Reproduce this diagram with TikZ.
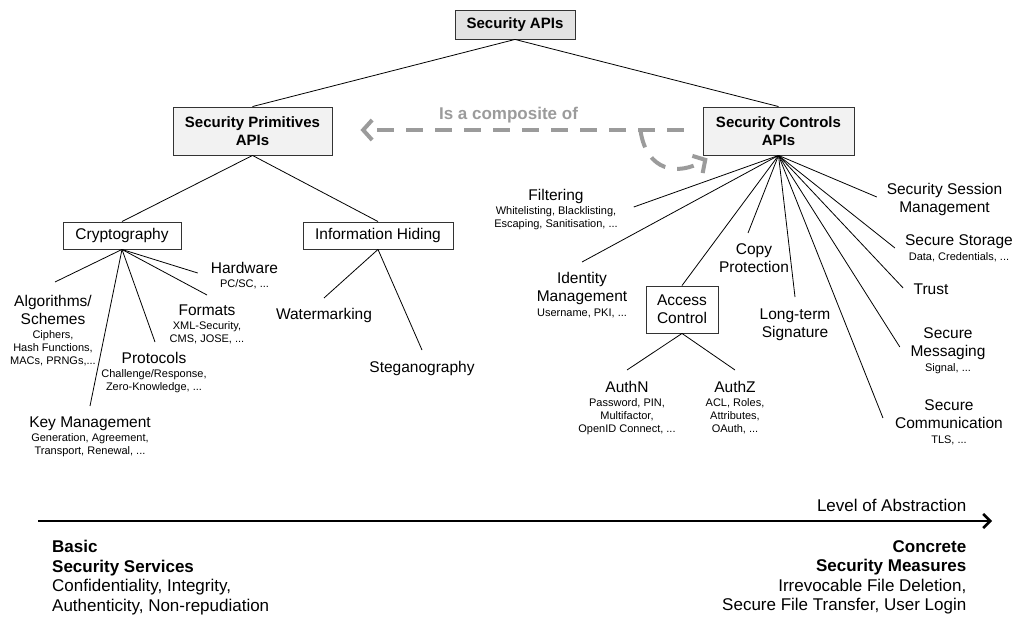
\documentclass[tikz,border=0pt]{standalone}
\usepackage{fontspec}
\setmainfont{Liberation Sans}
\usetikzlibrary{arrows.meta}
\newcommand\subtxt{\fontsize{11}{13}\selectfont}
\definecolor{apifill}{HTML}{E3E3E3}
\definecolor{midfill}{HTML}{F2F2F2}
\definecolor{dashgray}{HTML}{9B9B9B}
\definecolor{edgecol}{HTML}{333333}
\begin{document}
\begin{tikzpicture}[x=1pt,y=-1pt,
  every node/.style={font=\fontsize{15.5}{18}\selectfont},
  boxbase/.style={draw=edgecol,line width=0.9pt,align=center,inner sep=0pt},
  topbox/.style={boxbase,fill=apifill,font=\bfseries\fontsize{15}{18}\selectfont},
  midbox/.style={boxbase,fill=midfill,font=\bfseries\fontsize{15}{17.5}\selectfont,minimum height=48pt},
  plainbox/.style={boxbase,fill=white},
  lbl/.style={align=center,inner sep=1pt,anchor=north},
  conn/.style={draw=black,line width=0.8pt},
  composite/.style={draw=dashgray,line width=4pt,dash pattern=on 17pt off 12pt,-{Straight Barb[length=9pt,width=20pt]}},
  axis/.style={draw=black,line width=2.6pt,-{Straight Barb[length=7pt,width=14pt]}},
  bottomtxt/.style={font=\fontsize{17}{19.5}\selectfont,inner sep=0pt},
]
\useasboundingbox (0,0) rectangle (1014,617);

% boxes
\node[topbox,minimum width=120pt,minimum height=29pt] (apis) at (515,24.5) {Security APIs};
\node[midbox,minimum width=159pt] (prim) at (252.5,131) {Security Primitives\\APIs};
\node[midbox,minimum width=151pt] (ctrl) at (778.5,131) {Security Controls\\APIs};
\node[plainbox,minimum width=118pt,minimum height=27pt] (crypto) at (122,235.5) {Cryptography};
\node[plainbox,minimum width=150pt,minimum height=27pt] (ih) at (378,235.5) {Information Hiding};
\node[plainbox,minimum width=72pt,minimum height=47pt] (ac) at (682,309.5) {Access\\Control};

% labels
\node[lbl] (algo) at (53,294.5) {Algorithms/\\Schemes\\[-4pt]\subtxt Ciphers,\\[-5pt]\subtxt Hash Functions,\\[-5pt]\subtxt MACs, PRNGs,...};
\node[lbl] (km) at (90,415.5) {Key Management\\[-4pt]\subtxt Generation, Agreement,\\[-5pt]\subtxt Transport, Renewal, ...};
\node[lbl] (proto) at (154,351.5) {Protocols\\[-4pt]\subtxt Challenge/Response,\\[-5pt]\subtxt Zero-Knowledge, ...};
\node[lbl] (fmt) at (207,303.5) {Formats\\[-4pt]\subtxt XML-Security,\\[-5pt]\subtxt CMS, JOSE, ...};
\node[lbl] (hw) at (244.5,261) {Hardware\\[-4pt]\subtxt PC/SC, ...};
\node[lbl] (wm) at (324,307) {Watermarking};
\node[lbl] (steg) at (422,360) {Steganography};
\node[lbl] (filt) at (556,188) {Filtering\\[-4pt]\subtxt Whitelisting, Blacklisting,\\[-5pt]\subtxt Escaping, Sanitisation, ...};
\node[lbl] (idm) at (582,271.5) {Identity\\Management\\[-3pt]\subtxt Username, PKI, ...};
\node[lbl] (authn) at (627,380.5) {AuthN\\[-4pt]\subtxt Password, PIN,\\[-5pt]\subtxt Multifactor,\\[-5pt]\subtxt OpenID Connect, ...};
\node[lbl] (authz) at (735,380.5) {AuthZ\\[-4pt]\subtxt ACL, Roles,\\[-5pt]\subtxt Attributes,\\[-5pt]\subtxt OAuth, ...};
\node[lbl] (cp) at (754,242.5) {Copy\\Protection};
\node[lbl] (lts) at (795,307.5) {Long-term\\Signature};
\node[lbl] (ssm) at (944.5,182) {Security Session\\Management};
\node[lbl] (ss) at (959,233) {Secure Storage\\[-3pt]\subtxt Data, Credentials, ...};
\node[lbl] (trust) at (931,283) {Trust};
\node[lbl] (sm) at (948,326) {Secure\\Messaging\\[-3pt]\subtxt Signal, ...};
\node[lbl] (sc) at (949,398) {Secure\\Communication\\[-3pt]\subtxt TLS, ...};

% connectors
\draw[conn] (apis.south) -- (prim.north);
\draw[conn] (apis.south) -- (ctrl.north);
\draw[conn] (prim.south) -- (crypto.north);
\draw[conn] (prim.south) -- (ih.north);
\draw[conn] (crypto.south) -- ([xshift=2pt,yshift=12.5pt]algo.north);
\draw[conn] (crypto.south) -- ([yshift=9.5pt]km.north);
\draw[conn] (crypto.south) -- ([xshift=1pt,yshift=9.5pt]proto.north);
\draw[conn] (crypto.south) -- ([yshift=8.5pt]fmt.north);
\draw[conn] (crypto.south) -- ([xshift=-12pt,yshift=-12pt]hw.north west);
\draw[conn] (ih.south) -- ([yshift=9pt]wm.north);
\draw[conn] (ih.south) -- ([yshift=10pt]steg.north);
\draw[conn] (ctrl.south) -- ([xshift=14.8pt,yshift=-19pt]filt.north east);
\draw[conn] (ctrl.south) -- ([yshift=9.5pt]idm.north);
\draw[conn] (ctrl.south) -- (ac.north);
\draw[conn] (ac.south) -- ([yshift=10.5pt]authn.north);
\draw[conn] (ac.south) -- ([yshift=10.5pt]authz.north);
\draw[conn] (ctrl.south) -- ([xshift=-6pt,yshift=9.5pt]cp.north);
\draw[conn] (ctrl.south) -- ([yshift=10.5pt]lts.north);
\draw[conn] (ctrl.south) -- ([xshift=-8.8pt,yshift=-15pt]ssm.north west);
\draw[conn] (ctrl.south) -- ([xshift=-9pt,yshift=-15pt]ss.north west);
\draw[conn] (ctrl.south) -- ([xshift=-9.3pt,yshift=-5pt]trust.north west);
\draw[conn] (ctrl.south) -- ([xshift=-9.5pt,yshift=-21pt]sm.north west);
\draw[conn] (ctrl.south) -- ([xshift=-11pt,yshift=-20pt]sc.north west);

% composite relation
\draw[composite] ([xshift=-19pt,yshift=1pt]ctrl.west) -- ([xshift=28pt,yshift=1pt]prim.east);
\node[font=\bfseries\fontsize{17}{20}\selectfont,text=dashgray,anchor=base] (comp) at (508.5,120) {Is a composite of};
\draw[composite] ([xshift=-62pt]ctrl.west) .. controls +(6,40) and +(-30,18) .. ([xshift=5pt,yshift=-3pt]ctrl.south west);

% abstraction axis
\coordinate (axL) at (38,521);
\coordinate (axR) at (992,521);
\draw[axis] (axL) -- (axR);
\node[bottomtxt,anchor=base east] (loa) at (966.5,511.7) {Level of Abstraction};
\node[bottomtxt,align=left,anchor=north west] (basic) at (52,540) {\textbf{Basic}\\\textbf{Security Services}\\Confidentiality, Integrity,\\Authenticity, Non-repudiation};
\node[bottomtxt,align=right,anchor=north east] (concrete) at (966.5,540) {\textbf{Concrete}\\\textbf{Security Measures}\\Irrevocable File Deletion,\\Secure File Transfer, User Login};
\end{tikzpicture}
\end{document}
